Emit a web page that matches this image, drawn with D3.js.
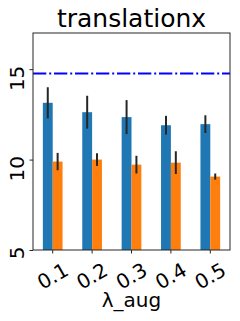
<!DOCTYPE html>
<html>
<head>
<meta charset="utf-8">
<script src="https://cdn.jsdelivr.net/npm/d3@7"></script>
<style>
  body { margin: 0; background: #fff; }
  text { font-family: "DejaVu Sans", sans-serif; fill: #000; }
</style>
</head>
<body>
<div id="chart"></div>
<script>
// data
const lambdas = ["0.1", "0.2", "0.3", "0.4", "0.5"];
const blueMean = [13.14, 12.62, 12.35, 11.90, 11.96];
const blueErr = [0.86, 0.91, 0.94, 0.52, 0.49];
const orangeMean = [9.89, 10.00, 9.72, 9.83, 9.06];
const orangeErr = [0.48, 0.35, 0.49, 0.63, 0.17];
const baseline = 14.76;
const yTicks = [5, 10, 15];

const W = 240, H = 321;
const margin = { top: 33, right: 10, bottom: 71, left: 33 };
const width = W - margin.left - margin.right;
const height = H - margin.top - margin.bottom;

const svg = d3.select("#chart").append("svg")
    .attr("width", W)
    .attr("height", H);

const g = svg.append("g")
    .attr("transform", `translate(${margin.left},${margin.top})`);

const x = d3.scaleBand()
    .domain(lambdas)
    .range([0, width])
    .padding(0);

const y = d3.scaleLinear()
    .domain([5, 17])
    .range([height, 0]);

const bw = x.bandwidth() * 0.25;

const clip = g.append("clipPath").attr("id", "clip")
  .append("rect").attr("width", width).attr("height", height);

const plot = g.append("g").attr("clip-path", "url(#clip)");

const series = [
    { mean: blueMean, err: blueErr, color: "#1f77b4", off: -1 },
    { mean: orangeMean, err: orangeErr, color: "#ff7f0e", off: 0 }
];

series.forEach(s => {
    plot.selectAll(null)
        .data(lambdas)
      .enter().append("rect")
        .attr("x", d => x(d) + x.bandwidth() / 2 + s.off * bw)
        .attr("y", (d, i) => y(s.mean[i]))
        .attr("width", bw)
        .attr("height", (d, i) => height - y(s.mean[i]))
        .attr("fill", s.color);
});

series.forEach(s => {
    plot.selectAll(null)
        .data(lambdas)
      .enter().append("line")
        .attr("x1", d => x(d) + x.bandwidth() / 2 + s.off * bw + bw / 2)
        .attr("x2", d => x(d) + x.bandwidth() / 2 + s.off * bw + bw / 2)
        .attr("y1", (d, i) => y(s.mean[i] - s.err[i]))
        .attr("y2", (d, i) => y(s.mean[i] + s.err[i]))
        .attr("stroke", "#262626")
        .attr("stroke-width", 2);
});

// dash-dot reference line
plot.append("line")
    .attr("x1", 0)
    .attr("x2", width)
    .attr("y1", y(baseline))
    .attr("y2", y(baseline))
    .attr("stroke", "#0000ff")
    .attr("stroke-width", 2)
    .attr("stroke-dasharray", "13.3,2.9,2,2.8");

// frame
g.append("rect")
    .attr("width", width)
    .attr("height", height)
    .attr("fill", "none")
    .attr("stroke", "#262626")
    .attr("stroke-width", 1);

// y axis
const yAxis = g.append("g")
    .call(d3.axisLeft(y).tickValues(yTicks).tickSize(3.5).tickFormat(""));
yAxis.select(".domain").remove();
yAxis.selectAll(".tick line").attr("stroke", "#262626");
yAxis.selectAll(".tick").append("text")
    .attr("transform", "translate(-9.5,-4) rotate(-90)")
    .attr("text-anchor", "end")
    .attr("font-size", "20px")
    .attr("fill", "#000")
    .text(d => d);

// x axis
const xAxis = g.append("g")
    .attr("transform", `translate(0,${height})`)
    .call(d3.axisBottom(x).tickSize(3.5).tickFormat(""));
xAxis.select(".domain").remove();
xAxis.selectAll(".tick line").attr("stroke", "#262626");
xAxis.selectAll(".tick").append("text")
    .attr("transform", "translate(0,26) rotate(-30)")
    .attr("text-anchor", "middle")
    .attr("dy", "0.35em")
    .attr("font-size", "20px")
    .attr("fill", "#000")
    .text(d => d);

// x label
svg.append("text")
    .attr("x", margin.left + width / 2)
    .attr("y", 307)
    .attr("text-anchor", "middle")
    .attr("font-size", "20px")
    .text("λ_aug");

// title
svg.append("text")
    .attr("x", margin.left + width / 2)
    .attr("y", 27)
    .attr("text-anchor", "middle")
    .attr("font-size", "25px")
    .text("translationx");
</script>
</body>
</html>
